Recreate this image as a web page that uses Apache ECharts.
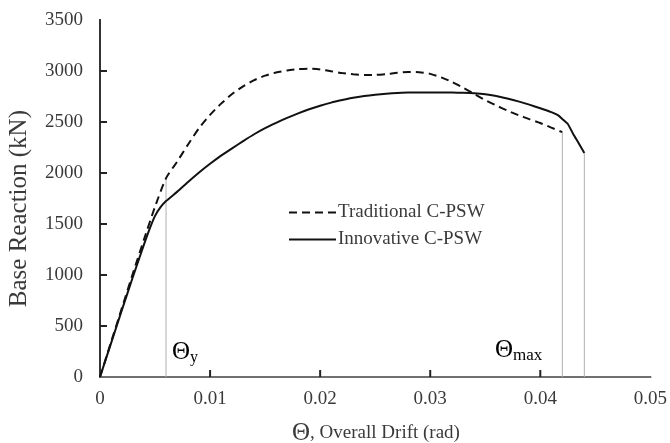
<!DOCTYPE html>
<html>
<head>
<meta charset="utf-8">
<script src="https://cdn.jsdelivr.net/npm/echarts@6/dist/echarts.min.js"></script>
<style>html,body{margin:0;padding:0;background:#fff}#c{width:670px;height:443px}</style>
</head>
<body>
<div id="c"></div>
<script>
// Data
const xTicks = [0, 0.01, 0.02, 0.03, 0.04, 0.05];
const yTicks = [0, 500, 1000, 1500, 2000, 2500, 3000, 3500];

const traditionalDrift = [0,0.001,0.002,0.003,0.004,0.005,0.006,0.007,0.008,0.009,0.010,0.011,0.012,0.013,0.014,0.015,0.016,0.017,0.018,0.019,0.020,0.021,0.022,0.023,0.024,0.025,0.026,0.027,0.028,0.029,0.030,0.031,0.032,0.033,0.034,0.035,0.036,0.037,0.038,0.039,0.040,0.041,0.042];
const traditionalForce = [0,340,680,1020,1350,1670,1950,2110,2280,2440,2570,2680,2775,2850,2910,2955,2985,3005,3018,3022,3015,2997,2980,2968,2962,2962,2970,2982,2990,2988,2972,2938,2892,2835,2775,2715,2662,2612,2568,2528,2490,2445,2400];

const innovativeDrift = [0,0.001,0.002,0.003,0.004,0.0045,0.005,0.0055,0.006,0.007,0.008,0.009,0.010,0.011,0.012,0.013,0.014,0.015,0.016,0.017,0.018,0.019,0.020,0.021,0.022,0.023,0.024,0.025,0.026,0.027,0.028,0.029,0.030,0.031,0.032,0.033,0.034,0.035,0.036,0.037,0.038,0.039,0.040,0.041,0.0416,0.042,0.0425,0.043,0.0435,0.044];
const innovativeForce = [0,330,660,985,1300,1450,1580,1665,1725,1815,1912,2005,2090,2170,2242,2312,2380,2440,2492,2540,2585,2625,2660,2690,2715,2738,2755,2768,2778,2785,2788,2789,2789,2789,2788,2786,2782,2773,2755,2730,2702,2670,2635,2597,2568,2530,2480,2380,2290,2195];

const thetaYLine = [[0.006, 0], [0.006, 1950]];
const thetaMaxTradLine = [[0.042, 0], [0.042, 2400]];
const thetaMaxInnoLine = [[0.044, 0], [0.044, 2195]];

const zip = (a, b) => a.map((v, i) => [v, b[i]]);
const FONT = 'Liberation Serif';
const TXT = '#3a3a3a';

const chart = echarts.init(document.getElementById('c'), null, {renderer: 'canvas'});
const guide = (d) => ({
  type: 'line', data: d, symbol: 'none', silent: true, legendHoverLink: false,
  lineStyle: {color: '#b0b0b0', width: 1}, z: 1
});
// inward tick marks, placed through the axes' own scales
const tickMarks = (data, size, offset) => ({
  type: 'scatter', data: data, symbol: 'rect', symbolSize: size, symbolOffset: offset,
  clip: false, silent: true, legendHoverLink: false, z: 5,
  itemStyle: {color: '#222', opacity: 1}
});
chart.setOption({
  animation: false,
  backgroundColor: '#fff',
  grid: {left: 100, right: 18, top: 20, bottom: 66},
  legend: {
    orient: 'vertical', left: 283, top: 198, itemWidth: 47, itemHeight: 14, itemGap: 8,
    data: ['Traditional C-PSW', 'Innovative C-PSW'],
    itemStyle: {color: 'rgba(0,0,0,0)', borderColor: 'rgba(0,0,0,0)', borderWidth: 0},
    textStyle: {fontFamily: FONT, fontSize: 19, color: TXT, padding: [0, 0, 0, -3]}
  },
  xAxis: [{
    type: 'value', min: 0, max: 0.05, interval: 0.01,
    axisLine: {show: true, onZero: false, lineStyle: {color: '#222', width: 2}},
    axisTick: {show: false},
    axisLabel: {fontFamily: FONT, fontSize: 19, color: TXT, margin: 13,
      formatter: v => { const t = xTicks.find(x => Math.abs(x - v) < 1e-9); return t === 0 ? '0' : String(t); }},
    splitLine: {show: false}
  }, {
    type: 'value', position: 'top', min: 0, max: 0.05,
    axisLine: {show: true, lineStyle: {color: '#8a8a8a', width: 1.5}},
    axisTick: {show: false}, axisLabel: {show: false}, splitLine: {show: false}
  }],
  yAxis: [{
    type: 'value', min: 0, max: 3500, interval: 500,
    axisLine: {show: true, onZero: false, lineStyle: {color: '#222', width: 2}},
    axisTick: {show: false},
    axisLabel: {fontFamily: FONT, fontSize: 19, color: TXT, margin: 17,
      formatter: v => String(yTicks.find(y => y === v))},
    splitLine: {show: false}
  }, {
    type: 'value', position: 'right', min: 0, max: 3500,
    axisLine: {show: true, lineStyle: {color: '#333', width: 2}},
    axisTick: {show: false}, axisLabel: {show: false}, splitLine: {show: false}
  }],
  series: [
    guide(thetaYLine), guide(thetaMaxTradLine), guide(thetaMaxInnoLine),
    tickMarks(xTicks.slice(1, -1).map(x => [x, 0]), [2, 7], [0, -3.5]),
    tickMarks(yTicks.slice(1, -1).map(y => [0, y]), [7, 2], [3.5, 0]),
    {
      name: 'Traditional C-PSW', type: 'line', data: zip(traditionalDrift, traditionalForce),
      symbol: 'none', smooth: 0.2, z: 3,
      lineStyle: {color: '#111', width: 2, type: [8, 5]}, itemStyle: {color: '#111'}
    },
    {
      name: 'Innovative C-PSW', type: 'line', data: zip(innovativeDrift, innovativeForce),
      symbol: 'none', smooth: 0.2, z: 4,
      lineStyle: {color: '#111', width: 2}, itemStyle: {color: '#111'}
    }
  ],
  graphic: [
    {type: 'text', left: 7, top: 110, rotation: Math.PI / 2, originX: 0, originY: 0,
      style: {text: 'Base Reaction (kN)', font: '25px "Liberation Serif"', fill: TXT}},
    {type: 'text', x: 376, y: 433,
      style: {text: '{t|Θ}{r|, Overall Drift (rad)}', align: 'center', verticalAlign: 'middle',
        rich: {t: {fontFamily: FONT, fontSize: 25, fill: TXT, color: TXT},
               r: {fontFamily: FONT, fontSize: 19, fill: TXT, color: TXT}}}},
    {type: 'text', x: 172, y: 352,
      style: {text: '{t|Θ}{s|y}', verticalAlign: 'middle',
        rich: {t: {fontFamily: FONT, fontSize: 25, color: TXT}, s: {fontFamily: FONT, fontSize: 16, color: TXT, padding: [12, 0, 0, 0]}}}},
    {type: 'text', x: 495, y: 350,
      style: {text: '{t|Θ}{s|max}', verticalAlign: 'middle',
        rich: {t: {fontFamily: FONT, fontSize: 25, color: TXT}, s: {fontFamily: FONT, fontSize: 17, color: TXT, padding: [12, 0, 0, 0]}}}}
  ]
});
</script>
</body>
</html>
